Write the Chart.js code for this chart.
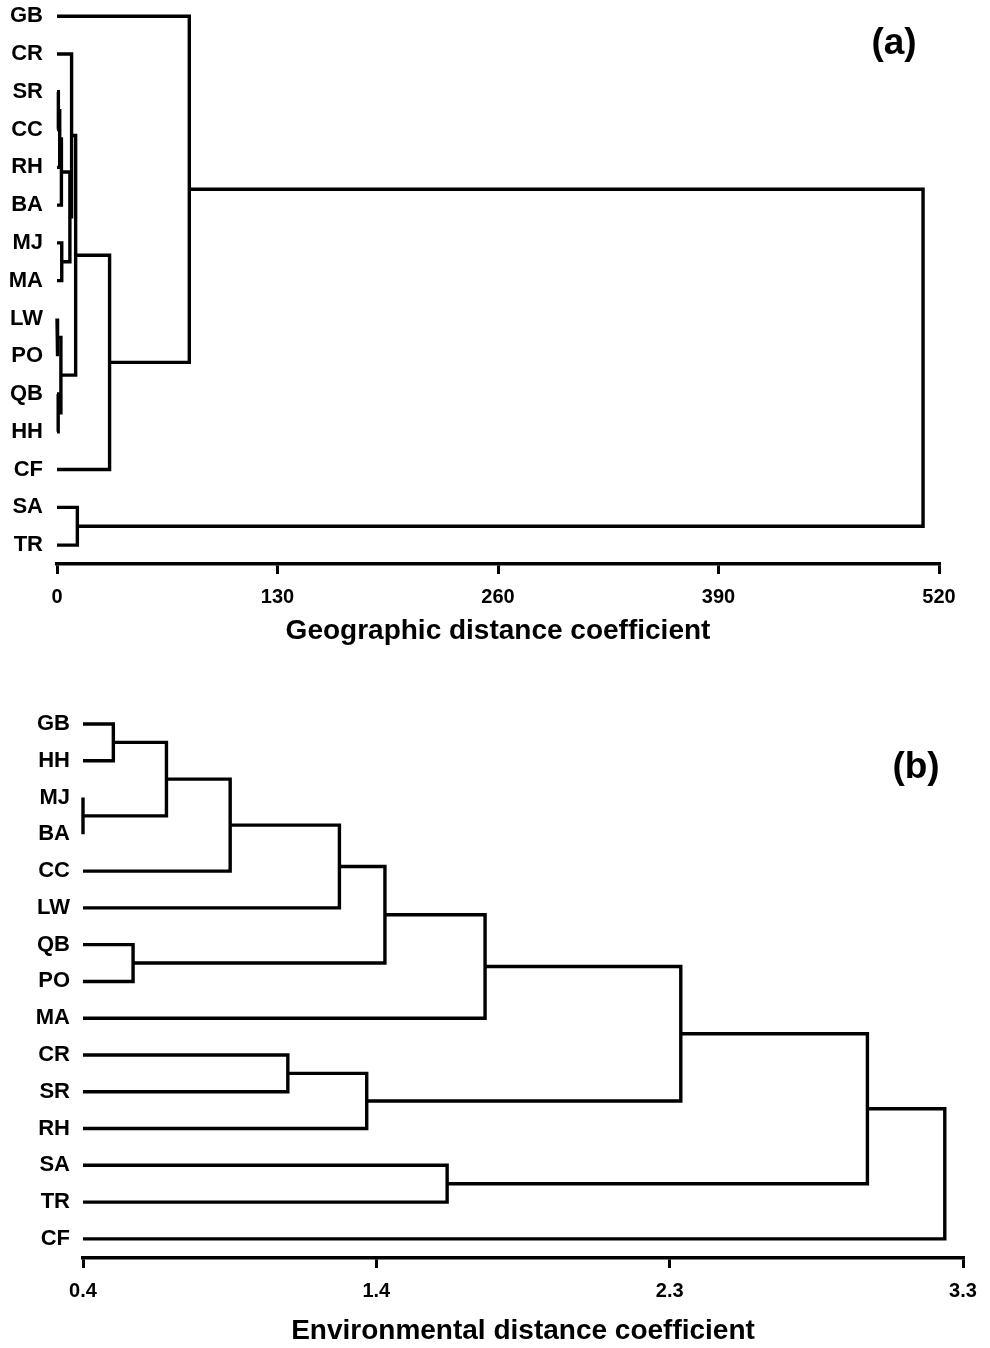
<!DOCTYPE html>
<html>
<head>
<meta charset="utf-8">
<script src="https://cdn.jsdelivr.net/npm/chart.js@4.4.1/dist/chart.umd.min.js"></script>
<style>
  html, body { margin: 0; padding: 0; background: #fff; }
  body { width: 990px; height: 1348px; position: relative; overflow: hidden; }
  canvas { position: absolute; left: 0; }
  #geo { top: 0; }
  #env { top: 680px; }
</style>
</head>
<body>
<canvas id="geo" width="990" height="660"></canvas>
<canvas id="env" width="990" height="668"></canvas>
<script>
// ---- (a) Geographic distance: leaf order, merges (node ids: leaves 0..14, merges 15..) ----
const leavesA = ['GB', 'CR', 'SR', 'CC', 'RH', 'BA', 'MJ', 'MA', 'LW', 'PO', 'QB', 'HH', 'CF', 'SA', 'TR'];
const mergeLeftA   = [2, 15, 16, 6, 17, 1, 8, 10, 21, 20, 24, 0, 13, 26];
const mergeRightA  = [3, 4, 5, 7, 18, 19, 9, 11, 22, 23, 12, 25, 14, 27];
const mergeHeightA = [0.8, 1.6, 2.6, 2.8, 7.6, 8.6, 0.5, 0.7, 2.3, 11.0, 31.0, 78.0, 12.0, 510.6];
const tickLabelsA  = ['0', '130', '260', '390', '520'];
const axisMinA = 0, axisMaxA = 520;

// ---- (b) Environmental distance ----
const leavesB = ['GB', 'HH', 'MJ', 'BA', 'CC', 'LW', 'QB', 'PO', 'MA', 'CR', 'SR', 'RH', 'SA', 'TR', 'CF'];
const mergeLeftB   = [0, 2, 15, 17, 18, 6, 19, 21, 9, 23, 22, 12, 25, 27];
const mergeRightB  = [1, 3, 16, 4, 5, 7, 20, 8, 10, 11, 24, 13, 26, 14];
const mergeHeightB = [0.50, 0.40, 0.675, 0.885, 1.245, 0.565, 1.395, 1.725, 1.075, 1.335, 2.37, 1.60, 2.985, 3.24];
const tickLabelsB  = ['0.4', '1.4', '2.3', '3.3'];
const axisMinB = 0.4, axisMaxB = 3.3;

const FONT = '"Liberation Sans", Arial, Helvetica, sans-serif';
Chart.defaults.font.family = FONT;
Chart.defaults.color = '#000';

// One U-shaped link per merge; a merge sits halfway between its two children.
function linkDatasets(leaves, lefts, rights, heights, base) {
  const ys = leaves.map((_, i) => i);
  const hs = leaves.map(() => base);
  const sets = [];
  lefts.forEach((l, k) => {
    const r = rights[k], h = heights[k];
    sets.push({
      data: [
        { x: hs[l], y: ys[l] }, { x: h, y: ys[l] },
        { x: h, y: ys[r] }, { x: hs[r], y: ys[r] }
      ],
      showLine: true,
      borderColor: '#000',
      borderWidth: 3.4,
      borderJoinStyle: 'miter',
      pointRadius: 0,
      pointHoverRadius: 0,
      clip: false
    });
    ys.push((ys[l] + ys[r]) / 2);
    hs.push(h);
  });
  return sets;
}

// Panel tag such as "(a)" in the upper right of the plot area
const panelTag = {
  id: 'panelTag',
  afterDraw(chart, args, o) {
    const { ctx, chartArea } = chart;
    ctx.save();
    ctx.font = 'bold 37px ' + FONT;
    ctx.fillStyle = '#000';
    ctx.textAlign = 'center';
    ctx.textBaseline = 'middle';
    ctx.fillText(o.text, chartArea.right - o.dx, chartArea.top + o.dy);
    ctx.restore();
  }
};

function dendrogram(id, cfg) {
  const n = cfg.tickLabels.length;
  const tickValues = cfg.tickLabels.map((_, i) => cfg.min + (cfg.max - cfg.min) * i / (n - 1));
  return new Chart(document.getElementById(id), {
    type: 'scatter',
    data: { datasets: linkDatasets(cfg.leaves, cfg.lefts, cfg.rights, cfg.heights, cfg.min) },
    plugins: [panelTag],
    options: {
      responsive: false,
      animation: false,
      events: [],
      layout: { padding: { top: cfg.padTop, right: cfg.padRight, left: 0, bottom: 0 } },
      plugins: {
        legend: { display: false },
        tooltip: { enabled: false },
        panelTag: { text: cfg.tag, dx: cfg.tagDx, dy: cfg.tagDy }
      },
      scales: {
        x: {
          type: 'linear',
          min: cfg.min,
          max: cfg.max,
          afterBuildTicks: ax => { ax.ticks = tickValues.map(v => ({ value: v })); },
          afterFit: ax => { ax.height = cfg.xHeight; ax.paddingLeft = 0; ax.paddingRight = 0; },
          ticks: {
            autoSkip: false,
            maxRotation: 0,
            padding: cfg.tickPad,
            color: '#000',
            font: { size: 20, weight: 'bold' },
            callback: (v, i) => cfg.tickLabels[i]
          },
          grid: {
            display: true,
            drawOnChartArea: false,
            drawTicks: true,
            tickLength: 10,
            color: '#000',
            lineWidth: 3
          },
          border: { display: true, color: '#000', width: 3.4 },
          title: {
            display: true,
            text: cfg.title,
            color: '#000',
            font: { size: 28, weight: 'bold' },
            padding: { top: 0, bottom: cfg.titlePad }
          }
        },
        y: {
          type: 'linear',
          reverse: true,
          min: cfg.yMin,
          max: cfg.yMax,
          afterBuildTicks: ax => { ax.ticks = cfg.leaves.map((_, i) => ({ value: i })); },
          afterFit: ax => { ax.width = cfg.yWidth; ax.paddingTop = 0; ax.paddingBottom = 0; },
          ticks: {
            autoSkip: false,
            padding: cfg.labelPad,
            color: '#000',
            font: { size: 22, weight: 'bold' },
            callback: (v, i) => cfg.leaves[i]
          },
          grid: { display: false, drawTicks: false },
          border: { display: false }
        }
      }
    }
  });
}

dendrogram('geo', {
  leaves: leavesA, lefts: mergeLeftA, rights: mergeRightA, heights: mergeHeightA,
  tickLabels: tickLabelsA, min: axisMinA, max: axisMaxA,
  title: 'Geographic distance coefficient', tag: '(a)',
  yMin: -0.35, yMax: 14.5, yWidth: 57, labelPad: 14,
  xHeight: 96, tickPad: 11, titlePad: 12,
  padTop: 3, padRight: 51, tagDx: 45, tagDy: 41
});

dendrogram('env', {
  leaves: leavesB, lefts: mergeLeftB, rights: mergeRightB, heights: mergeHeightB,
  tickLabels: tickLabelsB, min: axisMinB, max: axisMaxB,
  title: 'Environmental distance coefficient', tag: '(b)',
  yMin: -0.38, yMax: 14.52, yWidth: 83, labelPad: 13,
  xHeight: 90, tickPad: 11, titlePad: 0,
  padTop: 30, padRight: 27, tagDx: 47, tagDy: 58
});
</script>
</body>
</html>
